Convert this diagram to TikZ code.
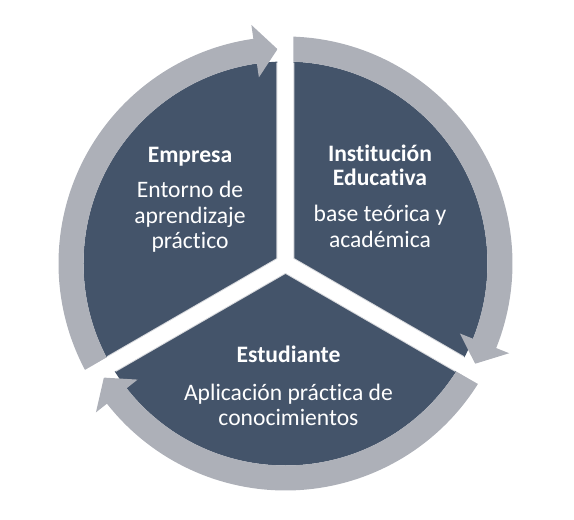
\documentclass[tikz,border=0pt]{standalone}
\usepackage{fontspec}
\setmainfont{Carlito}[Ligatures={NoCommon}]
\definecolor{slate}{HTML}{44546A}
\definecolor{ringgray}{HTML}{ADB0B8}
\definecolor{edgegray}{HTML}{D6D8DC}
\tikzset{
  sector/.style={fill=slate},
  ringseg/.style={fill=ringgray},
  gapedge/.style={draw=edgegray, line width=18pt},
  gapline/.style={draw=white, line width=16pt},
  ttl/.style={text=white, font=\fontsize{23.6}{28}\selectfont\bfseries, anchor=base, inner sep=0pt},
  dsc/.style={text=white, font=\fontsize{23.6}{28}\selectfont, anchor=base, inner sep=0pt}
}
\begin{document}
\begin{tikzpicture}[x=1pt,y=1pt]
\useasboundingbox (-285.5,-256.5) rectangle (288.5,263.5);
% dark disc
\fill[sector] (0,0) circle[radius=202];
% ring segments with arrowheads (tip at gap edge, head length 6 deg)
\def\dd{2.14}
% Empresa: from 210 clockwise to 90
\fill[ringseg] (210:202) arc[start angle=210, end angle={90+\dd+6}, radius=202]
  -- ({90+\dd+6}:188) -- ({90+\dd}:214.5) -- ({90+\dd+6}:241)
  -- ({90+\dd+6}:227) arc[start angle={90+\dd+6}, end angle=210, radius=227] -- cycle;
% Institucion: from 90 clockwise to -30
\fill[ringseg] (90:202) arc[start angle=90, end angle={-30+\dd+6}, radius=202]
  -- ({-30+\dd+6}:188) -- ({-30+\dd}:214.5) -- ({-30+\dd+6}:241)
  -- ({-30+\dd+6}:227) arc[start angle={-30+\dd+6}, end angle=90, radius=227] -- cycle;
% Estudiante: from -30 clockwise to -150
\fill[ringseg] (-30:202) arc[start angle=-30, end angle={-150+\dd+6}, radius=202]
  -- ({-150+\dd+6}:188) -- ({-150+\dd}:214.5) -- ({-150+\dd+6}:241)
  -- ({-150+\dd+6}:227) arc[start angle={-150+\dd+6}, end angle=-30, radius=227] -- cycle;
% gaps
\coordinate (c) at (0,0);
\coordinate (e1) at (90:201);
\coordinate (e2) at (210:201);
\coordinate (e3) at (330:201);
\coordinate (g1) at (90:250);
\coordinate (g2) at (210:250);
\coordinate (g3) at (330:250);
\path[gapedge] (c) -- (e1) (c) -- (e2) (c) -- (e3);
\path[gapline] (c) -- (g1) (c) -- (g2) (c) -- (g3);
% texts
\node[ttl] (emp) at (-95.5,101.5) {Empresa};
\node[dsc] (emp1) at (-95.5,66.5) {Entorno de};
\node[dsc] (emp2) at (-95.5,40.5) {aprendizaje};
\node[dsc] (emp3) at (-95.5,15.5) {práctico};
\node[ttl] (ins1) at (94.5,102.5) {Institución};
\node[ttl] (ins2) at (94.5,78.5) {Educativa};
\node[dsc] (ins3) at (94.5,42.5) {base teórica y};
\node[dsc] (ins4) at (94.5,16.5) {académica};
\node[ttl] (est) at (3,-98.5) {Estudiante};
\node[dsc] (est1) at (3,-137) {Aplicación práctica de};
\node[dsc] (est2) at (3,-161.5) {conocimientos};
\end{tikzpicture}
\end{document}
